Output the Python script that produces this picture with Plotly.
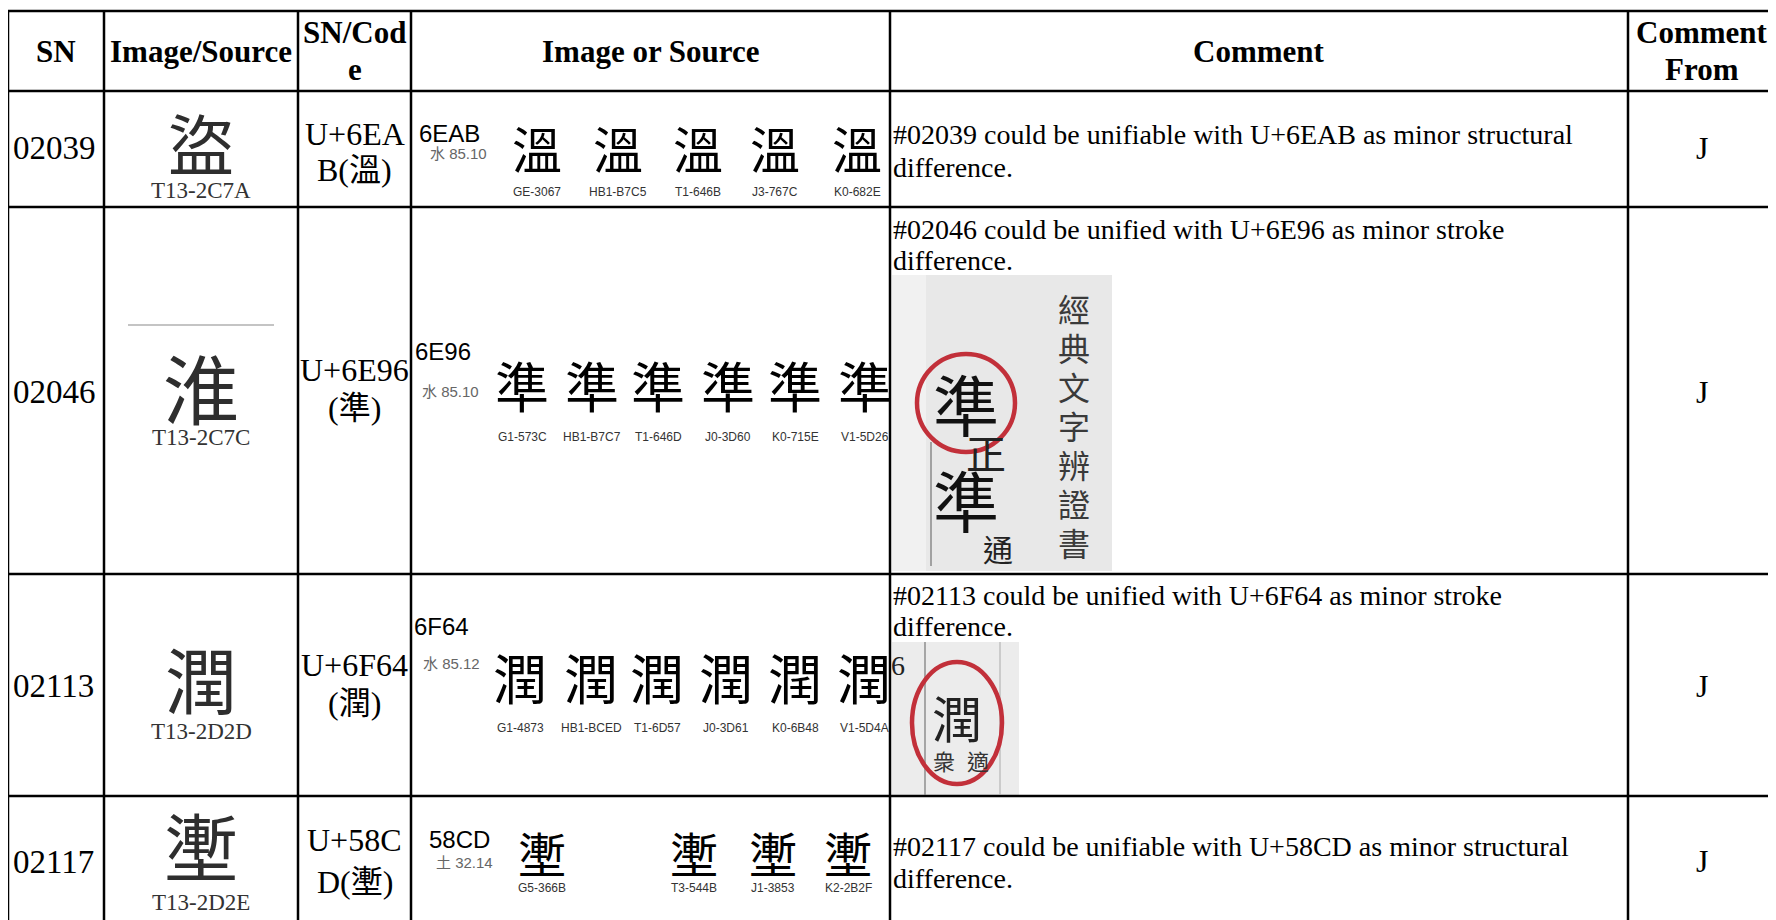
import plotly.graph_objects as go

# ---------------- data ----------------
headers = ["SN", "Image/Source", ["SN/Cod", "e"], "Image or Source", "Comment", ["Comment", "From"]]
sn = ["02039", "02046", "02113", "02117"]
source_glyph = ["盜", "淮", "潤", "壍"]
source_label = ["T13-2C7A", "T13-2C7C", "T13-2D2D", "T13-2D2E"]
code_line1 = ["U+6EA", "U+6E96", "U+6F64", "U+58C"]
code_line2 = ["B(溫)", "(準)", "(潤)", "D(壍)"]
ref_code = ["6EAB", "6E96", "6F64", "58CD"]
radical = ["水 85.10", "水 85.10", "水 85.12", "土 32.14"]
ref_glyph = ["溫", "準", "潤", "壍"]
variant_sources = [
    ["GE-3067", "HB1-B7C5", "T1-646B", "J3-767C", "K0-682E"],
    ["G1-573C", "HB1-B7C7", "T1-646D", "J0-3D60", "K0-715E", "V1-5D26"],
    ["G1-4873", "HB1-BCED", "T1-6D57", "J0-3D61", "K0-6B48", "V1-5D4A"],
    ["G5-366B", "T3-544B", "J1-3853", "K2-2B2F"],
]
comment_line1 = [
    "#02039 could be unifiable with U+6EAB as minor structural",
    "#02046 could be unified with U+6E96 as minor stroke",
    "#02113 could be unified with U+6F64 as minor stroke",
    "#02117 could be unifiable with U+58CD as minor structural",
]
comment_line2 = ["difference.", "difference.", "difference.", "difference."]
comment_from = ["J", "J", "J", "J"]
scan2_title = list("經典文字辨證書")
scan2_chars = ["準", "正", "準", "通"]
scan3_chars = ["潤", "6", "衆", "適"]

# ---------------- layout geometry (page pixels) ----------------
W, H = 1776, 920
OFF = 8  # page body margin
col_edges = [8, 104, 298, 411, 890, 1628, 1800]
row_edges = [11, 91, 207, 574, 796, 1000]
sn_y = [148, 392, 686, 862]
src_glyph_y = [141, 386, 676, 843]
src_glyph_size = [66, 76, 72, 74]
src_label_y = [190, 437, 731, 902]
code_y = [(134, 170), (370, 408), (665, 703), (840, 882)]
refcode_xy = [(417, 133), (413, 351), (412, 626), (427, 839)]
radical_xy = [(458, 153), (450, 391), (451, 663), (464, 862)]
variant_x = [
    [537, 618, 698, 775, 857],
    [522, 592, 658, 728, 795, 865],
    [520, 591, 657, 726, 795, 864],
    [542, 694, 773, 848],
]
variant_glyph_y = [147, 384, 676, 852]
variant_glyph_size = [50, 54, 54, 48]
variant_label_y = [192, 437, 728, 888]
comment_y = [(134, 167), (229, 260), (595, 626), (846, 878)]
from_y = [148, 392, 686, 861]

SERIF = "Liberation Serif, Times New Roman, Noto Sans CJK TC, serif"
SANS = "Liberation Sans, Arial, Noto Sans CJK TC, sans-serif"
NARROW = "Liberation Sans Narrow, Arial Narrow, Liberation Sans, sans-serif"
CJK = {"G": "Noto Sans CJK SC", "H": "Noto Sans CJK TC", "T": "Noto Sans CJK TC",
       "J": "Noto Sans CJK JP", "K": "Noto Sans CJK KR", "V": "Noto Sans CJK SC"}

fig = go.Figure()
ann = []


def txt(x, y, s, size, family=SERIF, color="black", xa="center", ya="middle"):
    ann.append(dict(x=x, y=y, text=s, showarrow=False, xref="x", yref="y",
                    xanchor=xa, yanchor=ya, font=dict(size=size, family=family, color=color)))


# grid lines
shapes = []
for y in row_edges[:-1]:
    shapes.append(dict(type="line", x0=col_edges[0], x1=W + 20, y0=y, y1=y,
                       line=dict(color="black", width=2.5), layer="above"))
for x in col_edges[:-1]:
    shapes.append(dict(type="line", x0=x, x1=x, y0=row_edges[0], y1=H + 20,
                       line=dict(color="black", width=2.5), layer="above"))

# header
hy = (row_edges[0] + row_edges[1]) / 2
for i, h in enumerate(headers):
    cx = (col_edges[i] + min(col_edges[i + 1], W + 30)) / 2
    if i == 5:
        cx = 1702
    if isinstance(h, list):
        txt(cx, 32, "<b>%s</b>" % h[0], 31)
        txt(cx, 69, "<b>%s</b>" % h[1], 31)
    else:
        txt(cx, hy, "<b>%s</b>" % h, 31)

for r in range(4):
    # SN
    txt(col_edges[0] + 3, sn_y[r], sn[r], 33, xa="left")
    # Image/Source
    scx = (col_edges[1] + col_edges[2]) / 2
    txt(scx, src_glyph_y[r], source_glyph[r], src_glyph_size[r], "Noto Sans CJK TC", "#2e2e2e")
    txt(scx, src_label_y[r], source_label[r], 23, SERIF, "#333")
    # code
    ccx = (col_edges[2] + col_edges[3]) / 2
    txt(ccx, code_y[r][0], code_line1[r], 32)
    txt(ccx, code_y[r][1], code_line2[r], 32)
    # reference glyphs
    txt(refcode_xy[r][0], refcode_xy[r][1], ref_code[r], 24, SANS, xa="left")
    txt(radical_xy[r][0], radical_xy[r][1], radical[r], 15, SANS, "#666")
    for j, src in enumerate(variant_sources[r]):
        txt(variant_x[r][j], variant_glyph_y[r], ref_glyph[r], variant_glyph_size[r], CJK[src[0]], "#000")
        txt(variant_x[r][j], variant_label_y[r], src, 12, NARROW, "#333")
    # comment
    txt(col_edges[4] + 1, comment_y[r][0], comment_line1[r], 28, xa="left")
    txt(col_edges[4] + 1, comment_y[r][1], comment_line2[r], 28, xa="left")
    # from
    txt(1702, from_y[r], comment_from[r], 32)

# stray gray rule above the row-2 source glyph
shapes.append(dict(type="line", x0=128, x1=274, y0=325, y1=325, line=dict(color="#c4c4c4", width=2)))

# scanned picture in row-2 comment
shapes.append(dict(type="rect", x0=892, x1=1112, y0=275, y1=571, fillcolor="#e8e8e8",
                   line=dict(width=0), layer="below"))
shapes.append(dict(type="rect", x0=892, x1=926, y0=275, y1=571, fillcolor="#f1f1f1",
                   line=dict(width=0), layer="below"))
shapes.append(dict(type="line", x0=931, x1=931, y0=442, y1=566, line=dict(color="#8a8a8a", width=1.5)))
for k, ch in enumerate(scan2_title):
    txt(1074, 308 + k * 39, ch, 32, "Noto Sans CJK TC", "#3a3a3a")
txt(966, 402, scan2_chars[0], 66, "Noto Sans CJK TC", "#111")
txt(986, 452, scan2_chars[1], 40, "Noto Sans CJK TC", "#222")
txt(966, 498, scan2_chars[2], 66, "Noto Sans CJK TC", "#111")
txt(998, 548, scan2_chars[3], 30, "Noto Sans CJK TC", "#222")
shapes.append(dict(type="circle", x0=917, x1=1015, y0=354, y1=452,
                   line=dict(color="#c2303a", width=4.5)))

# scanned picture in row-3 comment
shapes.append(dict(type="rect", x0=892, x1=1019, y0=642, y1=795, fillcolor="#ececec",
                   line=dict(width=0), layer="below"))
shapes.append(dict(type="line", x0=925, x1=925, y0=642, y1=795, line=dict(color="#777", width=1.2)))
shapes.append(dict(type="line", x0=1000, x1=1000, y0=642, y1=795, line=dict(color="#aaa", width=1)))
txt(957, 716, scan3_chars[0], 50, "Noto Sans CJK TC", "#222")
txt(898, 665, scan3_chars[1], 28, SERIF, "#222")
txt(944, 760, scan3_chars[2], 22, "Noto Sans CJK TC", "#333")
txt(978, 760, scan3_chars[3], 22, "Noto Sans CJK TC", "#333")
shapes.append(dict(type="circle", x0=912, x1=1002, y0=662, y1=784,
                   line=dict(color="#c2303a", width=4.5)))

fig.update_layout(
    width=W, height=H, margin=dict(l=0, r=0, t=0, b=0),
    paper_bgcolor="white", plot_bgcolor="white",
    xaxis=dict(range=[OFF, W + OFF], visible=False, fixedrange=True),
    yaxis=dict(range=[H + OFF, OFF], visible=False, fixedrange=True),
    shapes=shapes, annotations=ann, showlegend=False,
)
fig.write_html("out.html")
